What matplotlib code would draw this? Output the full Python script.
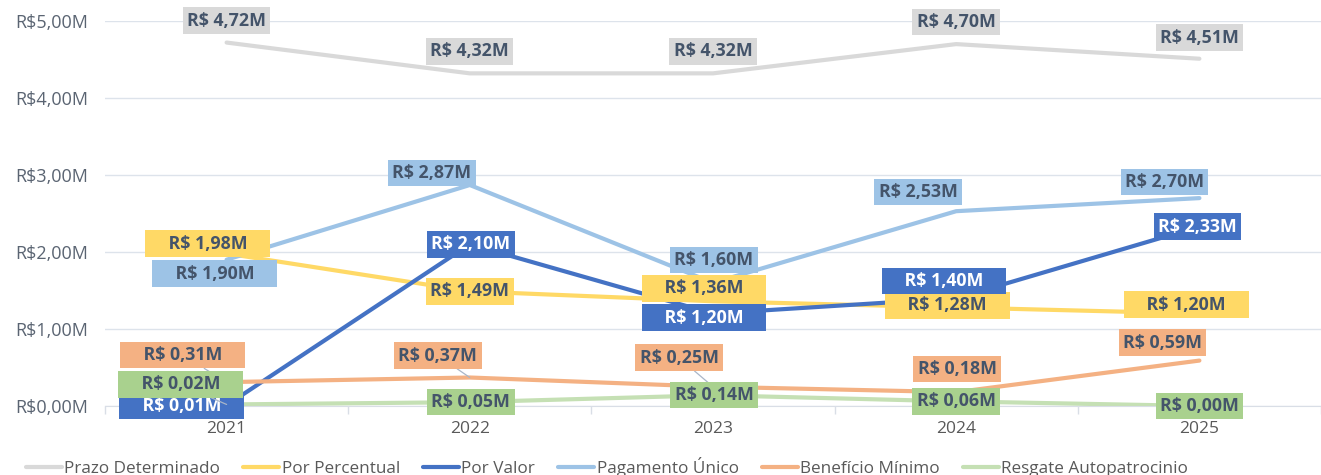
import matplotlib.pyplot as plt
import numpy as np

years = ["2021", "2022", "2023", "2024", "2025"]
prazo_determinado = [4.72, 4.32, 4.32, 4.70, 4.51]
por_percentual = [1.98, 1.49, 1.36, 1.28, 1.20]
por_valor = [0.01, 2.10, 1.20, 1.40, 2.33]
pagamento_unico = [1.90, 2.87, 1.60, 2.53, 2.70]
beneficio_minimo = [0.31, 0.37, 0.25, 0.18, 0.59]
resgate_autopatrocinio = [0.02, 0.05, 0.14, 0.06, 0.00]
names = ["Prazo Determinado", "Por Percentual", "Por Valor", "Pagamento Único",
         "Benefício Mínimo", "Resgate Autopatrocinio"]

plt.rcParams["font.family"] = ["Open Sans", "DejaVu Sans"]

series = [prazo_determinado, por_percentual, por_valor, pagamento_unico,
          beneficio_minimo, resgate_autopatrocinio]
line_colors = ["#D9D9D9", "#FFD966", "#4472C4", "#9DC3E6", "#F4B183", "#C5E0B4"]
box_colors = ["#D9D9D9", "#FFD966", "#4472C4", "#9DC3E6", "#F4B183", "#A9D18E"]
text_colors = ["#44546A", "#44546A", "white", "#44546A", "#44546A", "#44546A"]

# label offsets in pixels (dx, dy), widened boxes and leader lines
offsets = [
    [(0, 22), (0, 22), (0, 22), (0, 22), (0, 21)],
    [(-19, 10), (0, 0), (-9, 13), (-9, 2), (-13, 9)],
    [(-45, -1), (1, 0), (-9, -4), (-12, 17), (-2, 0)],
    [(-12, -14), (-38, 12), (1, 23), (-38, 19), (-35, 16)],
    [(-44, 27), (-32, 22), (-34, 29), (1, 23), (-37, 18)],
    [(-46, 20), (1, 0), (1, 0), (0, 0), (0, 0)],
]
wide = [
    [0, 0, 0, 0, 0],
    [1, 0, 1, 1, 1],
    [1, 0, 1, 1, 0],
    [1, 0, 0, 0, 0],
    [1, 0, 0, 0, 0],
    [1, 0, 0, 0, 0],
]
leader = [
    [0, 0, 0, 0, 0],
    [0, 0, 0, 0, 0],
    [0, 0, 0, 0, 0],
    [0, 0, 0, 0, 0],
    [1, 1, 1, 0, 0],
    [1, 0, 0, 0, 0],
]

W, H = 1321, 475
fig = plt.figure(figsize=(W / 100, H / 100), dpi=100)
ax = fig.add_axes([105 / W, (H - 406) / H, (W - 105) / W, 385 / H])
x = np.arange(len(years))

for s, vals in enumerate(series):
    ax.plot(x, vals, color=line_colors[s], lw=3, solid_capstyle="round",
            label=names[s], zorder=2 + s * 0.1)

for s, vals in enumerate(series):
    for i, v in enumerate(vals):
        txt = "R$ " + f"{v:.2f}".replace(".", ",") + "M"
        if wide[s][i]:
            txt = "    " + txt + "    "
        arrow = None
        if leader[s][i]:
            arrow = dict(arrowstyle="-", color="#A9B6C8", lw=0.9, shrinkA=0, shrinkB=0)
        ax.annotate(txt, (x[i], v), xytext=offsets[s][i], textcoords="offset pixels",
                    ha="center", va="center", fontsize=12.8, fontweight="bold",
                    color=text_colors[s], zorder=5, arrowprops=arrow,
                    bbox=dict(boxstyle="square,pad=0.24", fc=box_colors[s], ec="none"))

ax.set_xlim(-0.5, -0.5 + (W - 105) / 247)
ax.set_ylim(0, 5)
ax.set_yticks(np.arange(0, 6))
ax.set_yticklabels(["R$" + f"{t:.2f}".replace(".", ",") + "M" for t in range(6)])
ax.set_xticks(x)
ax.set_xticklabels(years)
ax.set_xticks(np.arange(-0.5, 5, 1), minor=True)
ax.tick_params(axis="x", which="major", length=0, pad=11, labelsize=12.5, labelcolor="#595959")
ax.tick_params(axis="x", which="minor", length=6, color="#D9DEE6", width=1)
ax.tick_params(axis="y", length=0, pad=12, labelsize=13, labelcolor="#5A6472")
ax.grid(axis="y", color="#DDE3EB", lw=1, zorder=0)
for sp in ["top", "right", "left"]:
    ax.spines[sp].set_visible(False)
ax.spines["bottom"].set_color("#D9DEE6")
ax.set_axisbelow(True)

fig.legend(loc="center", bbox_to_anchor=(607 / W, 8 / H), ncol=6, frameon=False,
           fontsize=12.3, labelcolor="#595959", handlelength=2.1, handletextpad=0.15,
           columnspacing=1.35)

fig.savefig("out.png", dpi=100)
